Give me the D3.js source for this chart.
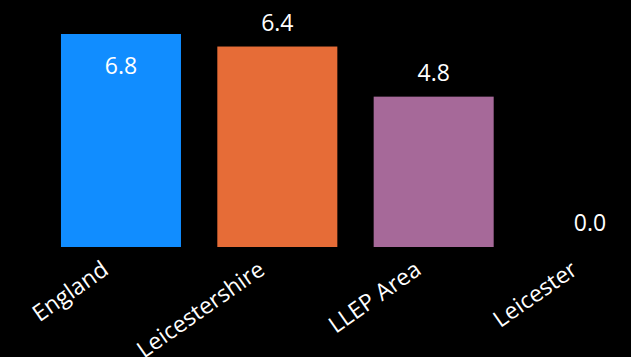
<!DOCTYPE html>
<html>
<head>
<meta charset="utf-8">
<script src="https://cdn.jsdelivr.net/npm/d3@7"></script>
<style>
  html, body { margin: 0; padding: 0; background: #000; }
  svg { display: block; }
  text { font-family: "Segoe UI", "Open Sans", sans-serif; fill: #fff; }
</style>
</head>
<body>
<script>
const categories = ["England", "Leicestershire", "LLEP Area", "Leicester"];
const values = [6.8, 6.4, 4.8, 0.0];
const colors = ["#118DFF", "#E66C37", "#A66999", "#D9B300"];

const W = 631, H = 357;
const svg = d3.select("body").append("svg").attr("width", W).attr("height", H);

const x = d3.scaleBand()
  .domain(categories)
  .range([42.8, 668.2])
  .paddingInner(0.2324)
  .paddingOuter(0.1162);

const y = d3.scaleLinear().domain([0, 6.8]).range([247, 34]);

const data = categories.map((c, i) => ({ c, v: values[i], col: colors[i] }));

svg.selectAll("rect.bar").data(data).join("rect")
  .attr("class", "bar")
  .attr("x", d => x(d.c))
  .attr("y", d => y(d.v))
  .attr("width", x.bandwidth())
  .attr("height", d => y(0) - y(d.v))
  .attr("fill", d => d.col);

svg.selectAll("text.val").data(data).join("text")
  .attr("class", "val")
  .attr("x", d => x(d.c) + x.bandwidth() / 2)
  .attr("y", d => {
    const above = y(d.v) - 16;
    return above < 25 ? y(d.v) + 40 : above;
  })
  .attr("text-anchor", "middle")
  .style("font-size", "23px")
  .text(d => d3.format(".1f")(d.v));

const ax = svg.append("g")
  .attr("transform", `translate(0,${y(0)})`)
  .call(d3.axisBottom(x).tickSize(0));
ax.select(".domain").remove();
ax.selectAll("text")
  .attr("x", 0).attr("y", 0).attr("dy", 0)
  .attr("transform", "translate(-11,26) rotate(-35)")
  .attr("text-anchor", "end")
  .attr("fill", "#fff")
  .style("font-size", "23px")
  .style("font-family", "'Segoe UI', 'Open Sans', sans-serif");
</script>
</body>
</html>
